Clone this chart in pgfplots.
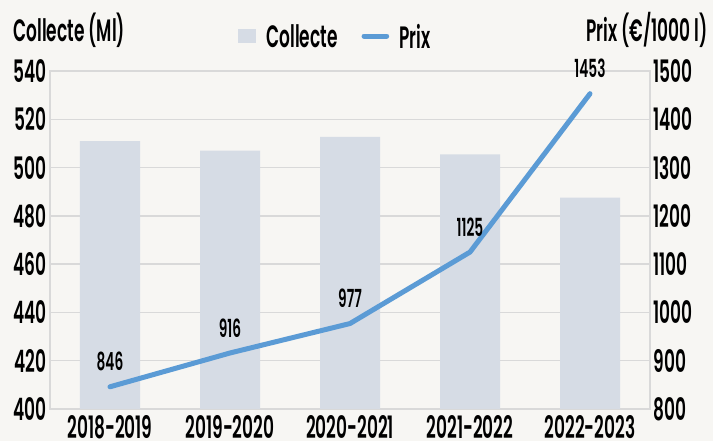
\documentclass[border=0pt]{standalone}
\usepackage{pgfplots}
\pgfplotsset{compat=1.18}
\usepackage{fontspec}
\setmainfont{Poppins}[UprightFont={* SemiBold}, FakeStretch=0.55]
\definecolor{bgc}{HTML}{F7F6F3}
\definecolor{barc}{HTML}{D6DCE5}
\definecolor{linec}{HTML}{5B9BD5}
\definecolor{gridc}{HTML}{D9D9D9}
\newcommand{\tickfont}{\fontsize{31}{33}\selectfont}
\newcommand{\labfont}{\fontsize{25}{27}\selectfont}
\begin{document}
\begin{tikzpicture}
\path[use as bounding box, fill=bgc] (-50bp,-32bp) rectangle (663bp,409bp);
\begin{axis}[
  at={(0,0)}, anchor=south west,
  scale only axis, width=600bp, height=338bp,
  xmin=-0.5, xmax=4.5, ymin=400, ymax=540,
  ytick={400,420,...,540},
  xtick={0,1,2,3,4},
  xticklabels={2018-2019,2019-2020,2020-2021,2021-2022,2022-2023},
  ymajorgrids, grid style={gridc, line width=1.3bp},
  axis line style={gridc, line width=1.3bp},
  major tick length=0pt,
  tick label style={font=\tickfont},
  xticklabel style={yshift=-3bp},
  /pgf/number format/assume math mode=true,
  /pgf/number format/1000 sep={},
  legend style={draw=none, fill=none, at={(0.475,1.1)}, anchor=center,
    font=\tickfont, legend columns=2,
    /tikz/every odd column/.append style={column sep=8bp},
    /tikz/every even column/.append style={column sep=22bp}},
  legend image code/.code={\fill[barc] (0cm,-0.22cm) rectangle (0.66cm,0.3cm);},
]
\addplot[ybar, bar width=60bp, fill=barc, draw=none] coordinates {(0,511.0) (1,507.0) (2,512.7) (3,505.5) (4,487.6)};
\addlegendentry{Collecte}
\addlegendimage{legend image code/.code={\draw[linec, line width=5bp, line cap=round] (0cm,0.04cm) -- (0.8cm,0.04cm);}}
\addlegendentry{Prix}
\end{axis}
\begin{axis}[
  at={(0,0)}, anchor=south west,
  scale only axis, width=600bp, height=338bp,
  xmin=-0.5, xmax=4.5, ymin=800, ymax=1500,
  ytick={800,900,...,1500},
  axis y line*=right, axis x line=none,
  y axis line style={draw=none},
  major tick length=0pt,
  tick label style={font=\tickfont},
  /pgf/number format/assume math mode=true,
  /pgf/number format/1000 sep={},
  nodes near coords style={font=\labfont, anchor=south, yshift=10bp, text=black},
]
\addplot[linec, line width=5bp, line cap=round, line join=round, nodes near coords,
  /pgf/number format/assume math mode=true, /pgf/number format/1000 sep={}]
  coordinates {(0,846) (1,916) (2,977) (3,1125) (4,1453)};
\end{axis}
\node[anchor=west, font=\tickfont] at (-40bp,379bp) {Collecte (Ml)};
\node[anchor=east, font=\tickfont] at (661bp,379bp) {Prix (€/1000 l)};
\end{tikzpicture}
\end{document}
